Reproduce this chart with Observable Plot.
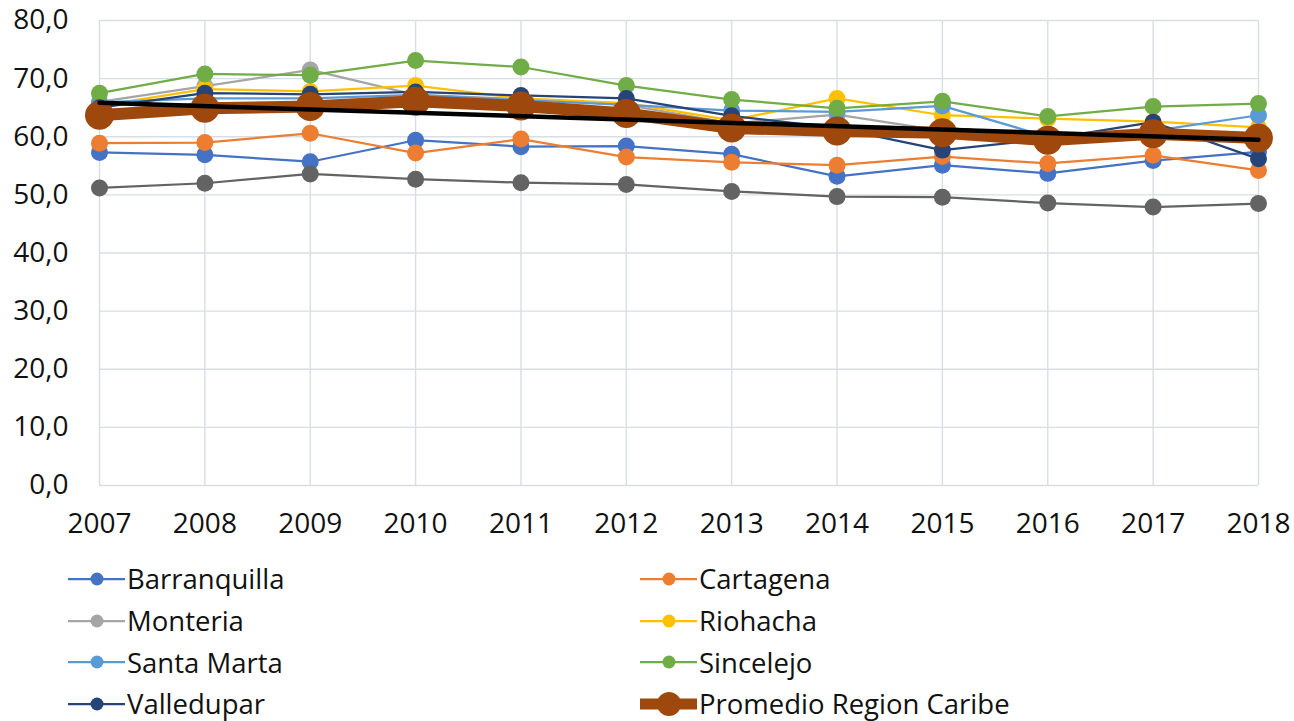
<!DOCTYPE html>
<html>
<head>
<meta charset="utf-8">
<script src="https://cdn.jsdelivr.net/npm/d3@7"></script>
<script src="https://cdn.jsdelivr.net/npm/@observablehq/plot@0.6"></script>
<style>
  html, body { margin: 0; padding: 0; background: #fff; }
  #wrap { position: relative; width: 1294px; height: 721px; overflow: hidden; font-family: "Open Sans", sans-serif; }
  #legend { position: absolute; left: 0; top: 558px; width: 1294px; }
  .row { display: flex; height: 41.7px; align-items: center; }
  .item { display: flex; align-items: center; font-size: 27.5px; color: #111; white-space: nowrap; }
  .item svg { display: block; margin-right: 1px; }
</style>
</head>
<body>
<div id="wrap"><div id="chart"></div><div id="legend"></div></div>
<script>
const years = [2007, 2008, 2009, 2010, 2011, 2012, 2013, 2014, 2015, 2016, 2017, 2018];
const yTicks = [0, 10, 20, 30, 40, 50, 60, 70, 80];

const barranquilla = [57.3, 56.9, 55.7, 59.4, 58.3, 58.4, 57.0, 53.2, 55.1, 53.7, 55.9, 57.4];
const cartagena    = [58.9, 59.0, 60.6, 57.2, 59.6, 56.5, 55.6, 55.1, 56.6, 55.4, 56.8, 54.2];
const monteria     = [66.0, 68.7, 71.5, 67.2, 66.5, 65.5, 62.3, 63.8, 61.0, 60.0, 60.5, 60.2];
const riohacha     = [65.3, 68.2, 67.8, 68.8, 66.6, 65.8, 62.8, 66.6, 63.7, 63.1, 62.6, 61.6];
const santaMarta   = [65.9, 66.6, 66.6, 67.2, 66.3, 65.5, 64.5, 64.3, 65.3, 60.0, 61.0, 63.7];
const sincelejo    = [67.5, 70.8, 70.6, 73.1, 72.0, 68.8, 66.4, 64.9, 66.1, 63.5, 65.2, 65.7];
const valledupar   = [65.0, 67.5, 67.3, 67.7, 67.1, 66.6, 63.6, 61.5, 57.7, 59.6, 62.5, 56.2];
const serie9       = [51.2, 52.0, 53.6, 52.7, 52.1, 51.8, 50.6, 49.7, 49.6, 48.6, 47.9, 48.5];
const promedio     = [63.7, 64.9, 65.2, 66.1, 65.3, 64.0, 61.5, 61.0, 60.7, 59.4, 60.5, 59.8];

const seriesNames = ["Barranquilla", "Cartagena", "Monteria", "Riohacha", "Santa Marta", "Sincelejo", "Valledupar", "Serie 9", "Promedio Region Caribe"];
const seriesValues = [barranquilla, cartagena, monteria, riohacha, santaMarta, sincelejo, valledupar, serie9, promedio];
const seriesColors = ["#4472C4", "#ED7D31", "#A5A5A5", "#FFC000", "#5B9BD5", "#70AD47", "#264478", "#636363", "#9E480E"];
const legendNames = ["Barranquilla", "Cartagena", "Monteria", "Riohacha", "Santa Marta", "Sincelejo", "Valledupar", "Promedio Region Caribe"];

const rows = [];
seriesNames.forEach((s, k) => years.forEach((yr, i) => rows.push({serie: s, year: yr, value: seriesValues[k][i]})));

const marks = [
  Plot.gridX(years, {stroke: "#d9dde6", strokeOpacity: 1, strokeWidth: 1.4}),
  Plot.gridY(yTicks, {stroke: "#d9dde6", strokeOpacity: 1, strokeWidth: 1.4}),
  Plot.axisX(years, {tickSize: 0, tickPadding: 28, tickFormat: d => String(d), fill: "#111", label: null}),
  Plot.axisY(yTicks, {tickSize: 0, tickPadding: 31, tickFormat: d => d.toFixed(1).replace(".", ","), fill: "#111", label: null})
];
seriesNames.forEach((s, k) => {
  const d = rows.filter(r => r.serie === s);
  const big = s === "Promedio Region Caribe";
  marks.push(Plot.line(d, {x: "year", y: "value", stroke: seriesColors[k], strokeWidth: big ? 12 : 2.25}));
  marks.push(Plot.dot(d, {x: "year", y: "value", r: big ? 14.5 : 8.5, fill: seriesColors[k], stroke: "none"}));
});
marks.push(Plot.linearRegressionY(rows.filter(r => r.serie === "Promedio Region Caribe"),
  {x: "year", y: "value", stroke: "#000", strokeWidth: 4.5, ci: 0}));

const chart = Plot.plot({
  width: 1294,
  height: 550,
  marginLeft: 99,
  marginRight: 36,
  marginTop: 20,
  marginBottom: 65,
  style: {fontFamily: "Open Sans, sans-serif", fontSize: "28px", background: "transparent", color: "#111"},
  x: {type: "linear", domain: [2007, 2018], axis: null, label: null},
  y: {domain: [0, 80], axis: null, label: null},
  marks
});
document.getElementById("chart").appendChild(chart);

// legend
const legend = document.getElementById("legend");
for (let r = 0; r < 4; r++) {
  const row = document.createElement("div");
  row.className = "row";
  for (let c = 0; c < 2; c++) {
    const name = legendNames[r * 2 + c];
    const k = seriesNames.indexOf(name);
    const big = name === "Promedio Region Caribe";
    const item = document.createElement("div");
    item.className = "item";
    item.style.marginLeft = c === 0 ? "68px" : "0px";
    item.style.width = c === 0 ? "572px" : "auto";
    const ns = "http://www.w3.org/2000/svg";
    const sw = document.createElementNS(ns, "svg");
    sw.setAttribute("width", 58); sw.setAttribute("height", 30);
    const ln = document.createElementNS(ns, "line");
    ln.setAttribute("x1", 0); ln.setAttribute("x2", 57); ln.setAttribute("y1", 15); ln.setAttribute("y2", 15);
    ln.setAttribute("stroke", seriesColors[k]); ln.setAttribute("stroke-width", big ? 11 : 2.25);
    const ci = document.createElementNS(ns, "circle");
    ci.setAttribute("cx", 29); ci.setAttribute("cy", 15); ci.setAttribute("r", big ? 12 : 6.5);
    ci.setAttribute("fill", seriesColors[k]);
    sw.appendChild(ln); sw.appendChild(ci);
    const tx = document.createElement("span");
    tx.textContent = name;
    item.appendChild(sw); item.appendChild(tx);
    row.appendChild(item);
  }
  legend.appendChild(row);
}
</script>
</body>
</html>
